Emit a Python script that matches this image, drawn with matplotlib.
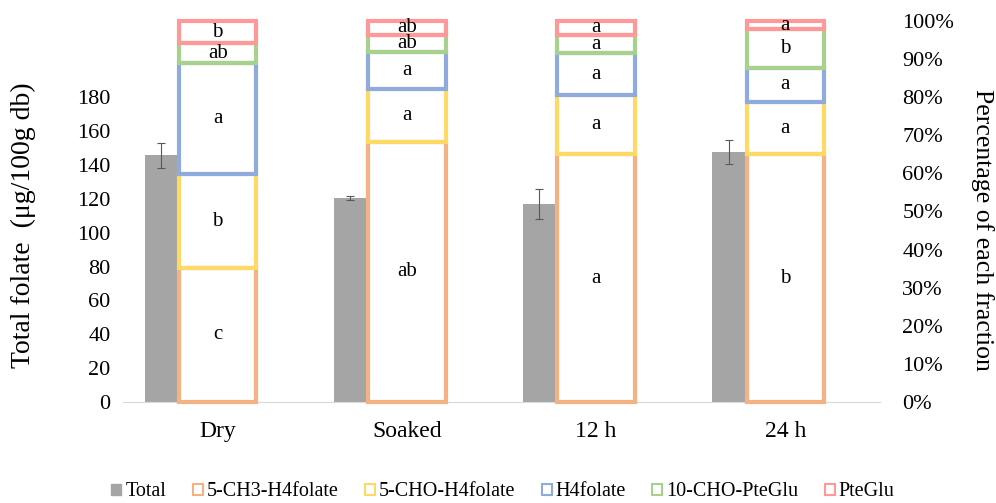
import numpy as np
import matplotlib.pyplot as plt
from matplotlib.patches import Patch

plt.rcParams['font.family'] = ['Liberation Serif', 'DejaVu Serif']

categories = ['Dry', 'Soaked', '12 h', '24 h']
total = [145.8, 120.4, 116.7, 147.8]
total_err = [7.4, 1.0, 8.9, 7.0]

fractions = ['5-CH3-H4folate', '5-CHO-H4folate', 'H4folate', '10-CHO-PteGlu', 'PteGlu']
# percentage of each fraction (per category)
ch3 = [35.2, 68.3, 65.0, 65.0]
cho = [24.6, 13.8, 15.6, 13.7]
h4 = [29.1, 9.8, 10.9, 9.0]
cho10 = [5.2, 4.5, 4.9, 10.1]
pteglu = [5.9, 3.6, 3.6, 2.2]

letters = [
    ['c', 'ab', 'a', 'b'],
    ['b', 'a', 'a', 'a'],
    ['a', 'a', 'a', 'a'],
    ['ab', 'ab', 'a', 'b'],
    ['b', 'ab', 'a', 'a'],
]

colors = ['#F4B183', '#FFD966', '#8FAADC', '#A9D18E', '#FF9999']

fig = plt.figure(figsize=(9.96, 5.03), dpi=100)
ax = fig.add_axes([0.1235, 0.2008, 0.76, 0.7575])
ax2 = ax.twinx()

x = np.arange(len(categories))

ax.bar(x - 0.3, total, width=0.17, color='#A5A5A5', zorder=2)
ax.errorbar(x - 0.3, total, yerr=total_err, fmt='none', ecolor='#595959',
            elinewidth=0.8, capsize=3, capthick=0.8, zorder=3)
ax.set_ylim(0, 225)
ax.set_yticks(np.arange(0, 181, 20))
ax.set_xlim(-0.5, 3.5)
ax.set_xticks(x)
ax.set_xticklabels(categories, fontsize=17)

series = [ch3, cho, h4, cho10, pteglu]
bottom = np.zeros(len(categories))
for vals, col, labs in zip(series, colors, letters):
    vals = np.array(vals)
    ax2.bar(x, vals, width=0.41, bottom=bottom, facecolor='none', edgecolor=col,
            linewidth=3, clip_on=False, zorder=2)
    for xi, b, v, t in zip(x, bottom, vals, labs):
        ax2.text(xi, b + v / 2, t, ha='center', va='center', fontsize=15, zorder=4)
    bottom += vals
ax2.set_ylim(0, 100)
ax2.set_yticks(np.arange(0, 101, 10))
ax2.set_yticklabels([f'{v}%' for v in range(0, 101, 10)])

for a in (ax, ax2):
    for s in a.spines.values():
        s.set_visible(False)
    a.tick_params(length=0, labelsize=16)
ax.spines['bottom'].set_visible(True)
ax.spines['bottom'].set_color('#D9D9D9')
ax.tick_params(axis='x', labelsize=17, pad=14)
ax.tick_params(axis='y', pad=9)
ax2.tick_params(axis='y', pad=16)

fig.text(23 / 996, 1 - 225 / 503, 'Total folate  (\u03bcg/100g db)', fontsize=20,
         rotation=90, ha='center', va='center')
fig.text(982 / 996, 1 - 230 / 503, 'Percentage of each fraction', fontsize=18.5,
         rotation=270, ha='center', va='center')

handles = [Patch(facecolor='#A5A5A5', edgecolor='#A5A5A5', label='Total')]
for name, col in zip(fractions, colors):
    handles.append(Patch(facecolor='white', edgecolor=col, linewidth=1.5, label=name))
fig.legend(handles=handles, loc='center', bbox_to_anchor=(0.505, 0.022), ncol=6,
           frameon=False, fontsize=14.5, handlelength=0.5, handleheight=0.5,
           handletextpad=0.2, columnspacing=1.3, borderpad=0)

fig.savefig('out.png', dpi=100)
